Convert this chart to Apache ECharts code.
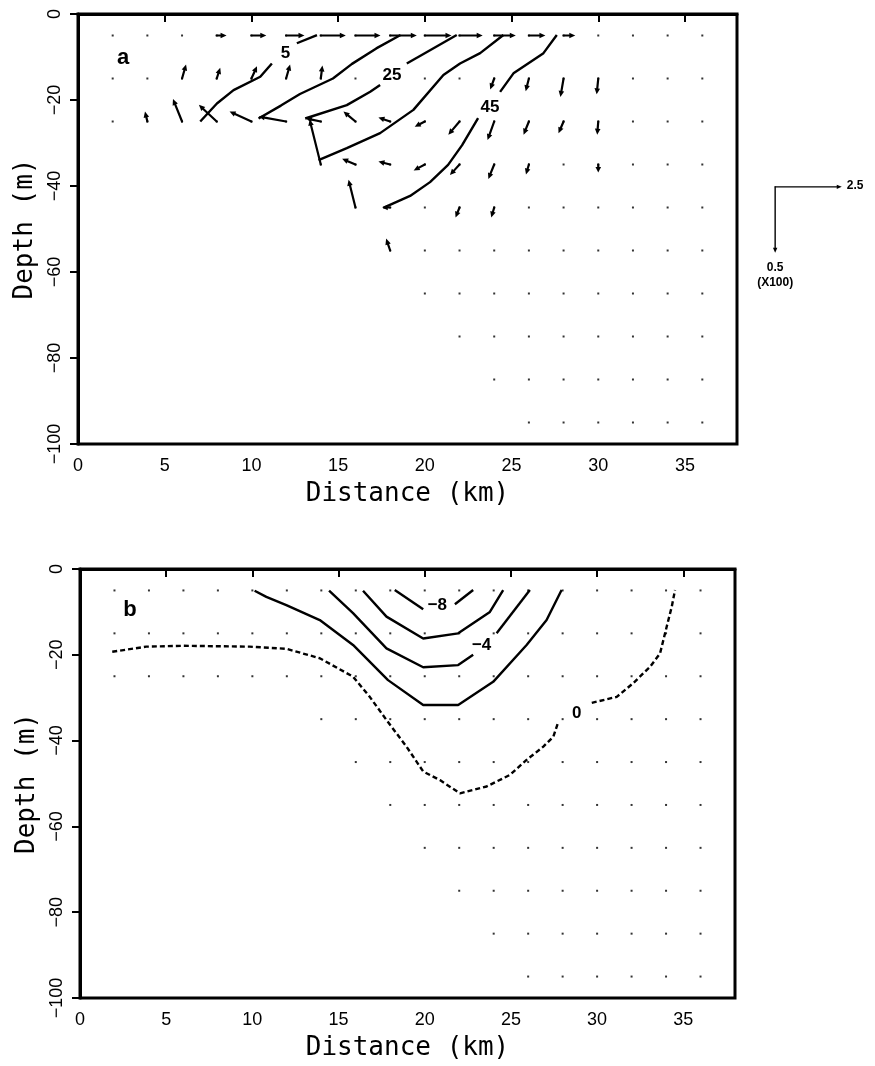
<!DOCTYPE html>
<html>
<head>
<meta charset="utf-8">
<script src="https://cdn.jsdelivr.net/npm/echarts@6/dist/echarts.min.js"></script>
<style>
  html, body { margin: 0; padding: 0; background: #fff; }
  #chart { width: 875px; height: 1066px; }
</style>
</head>
<body>
<div id="chart"></div>
<script>
// ---- sampling grid ----
const stationsKm = [2, 4, 6, 8, 10, 12, 14, 16, 18, 20, 22, 24, 26, 28, 30, 32, 34, 36];
const sampleDepths = [-5, -15, -25, -35, -45, -55, -65, -75, -85, -95];
// first station in the water at each sampling depth (bottom shoals to the left)
const firstStationKm = [2, 2, 2, 14, 16, 18, 20, 22, 24, 26];

// ---- axes ----
const xTicks = [0, 5, 10, 15, 20, 25, 30, 35];
const yTicks = [0, -20, -40, -60, -80, -100];

// ---- panel a: velocity vectors [km, depth m, u, w(x100)] ----
const velRow5 = [[8, -5, 0.37, 0], [10, -5, 0.56, 0], [12, -5, 0.69, 0], [14, -5, 0.94, 0], [16, -5, 0.94, 0],
  [18, -5, 1.0, 0], [20, -5, 1.0, 0], [22, -5, 0.87, 0], [24, -5, 0.81, 0], [26, -5, 0.62, 0], [28, -5, 0.44, 0]];
const velRow15 = [[6, -15, 0.15, 0.106], [8, -15, 0.13, 0.081], [10, -15, 0.21, 0.093], [12, -15, 0.15, 0.106],
  [14, -15, 0.06, 0.098], [24, -15, -0.15, -0.083], [26, -15, -0.12, -0.096], [28, -15, -0.12, -0.14], [30, -15, -0.06, -0.12]];
const velRow25 = [[4, -25, -0.09, 0.076], [6, -25, -0.34, 0.17], [8, -25, -0.67, 0.126], [10, -25, -0.82, 0.076],
  [12, -25, -1.03, 0.038], [14, -25, -0.56, 0.023], [16, -25, -0.45, 0.076], [18, -25, -0.44, 0.03],
  [20, -25, -0.38, -0.04], [22, -25, -0.42, -0.1], [24, -25, -0.25, -0.14], [26, -25, -0.2, -0.1],
  [28, -25, -0.19, -0.089], [30, -25, -0.04, -0.1]];
const velRow35 = [[14, -35, -0.42, 0.34], [16, -35, -0.5, 0.043], [18, -35, -0.44, 0.023], [20, -35, -0.42, -0.045],
  [22, -35, -0.36, -0.08], [24, -35, -0.22, -0.11], [26, -35, -0.11, -0.076], [30, -35, 0, -0.06]];
const velRow45 = [[16, -45, -0.26, 0.21], [18, -45, -0.3, 0], [22, -45, -0.15, -0.076], [24, -45, -0.11, -0.076]];
const velRow55 = [[18, -55, -0.15, 0.09]];

// reference vectors of the key: 2.5 (horizontal) and 0.5 x100 (vertical)
const refU = 2.5, refW = 0.5;
const refLenKm = 3.84, refLenM = 15.35;   // drawn length of the reference vectors in axis units
const keyAnchor = [40.2, -40.2];          // corner of the key, in panel a axis units

// ---- panel a: contours (pieces separated where the label sits) ----
const contA5 = [[[7.05, -25.0], [8.01, -20.8], [8.97, -17.7], [10.51, -14.6], [11.18, -11.5]],
  [[12.62, -6.8], [13.78, -4.9]]];
const contA15 = [[[10.41, -24.3], [11.7, -21.3], [12.8, -18.6], [14.7, -15.0], [15.8, -11.6], [17.2, -8.0], [18.6, -4.9]]];
const contA25 = [[[13.1, -24.3], [15.5, -21.2], [16.85, -18.1], [17.42, -16.5]],
  [[18.96, -11.5], [21.84, -4.9]]];
const contA35 = [[[13.87, -34.0], [15.5, -31.2], [17.42, -27.7], [19.34, -22.3], [21.07, -14.2], [22.03, -11.5],
  [23.19, -9.1], [24.53, -4.9]]];
const contA45 = [[[17.6, -45.1], [19.15, -42.3], [20.3, -39.1], [21.34, -35.1], [22.15, -30.5], [23.07, -24.2]],
  [[24.34, -18.1], [25.11, -13.8], [26.84, -9.1], [27.61, -4.9]]];
const labelsA = [['5', 11.96, -9.1], ['25', 18.1, -14.2], ['45', 23.76, -21.6]];

// ---- panel b: contours ----
const contB0 = [[[1.87, -19.3], [3.84, -18.1], [5.97, -17.9], [9.84, -18.1], [11.97, -18.6], [13.91, -20.8],
  [15.84, -25.1], [16.81, -29.8], [17.78, -35.2], [18.94, -41.4], [19.91, -47.2], [20.88, -49.2],
  [22.04, -52.3], [23.59, -50.7], [24.94, -48.0], [25.91, -44.5], [26.88, -41.4], [27.46, -39.1], [27.75, -35.6]],
  [[29.69, -31.2], [31.14, -29.8], [32.1, -26.6], [33.07, -22.8], [33.65, -19.7], [34.04, -13.4], [34.33, -8.8], [34.52, -4.9]]];
const contB2 = [[[10.13, -5.06], [10.81, -6.5], [11.97, -8.4], [13.91, -11.9], [15.84, -17.7], [17.87, -25.9],
  [19.91, -31.7], [21.94, -31.7], [23.97, -26.3], [25.91, -17.7], [27.07, -11.9], [27.94, -4.9]]];
const contB4 = [[[14.45, -5.06], [15.84, -10.3], [17.78, -18.5], [19.91, -22.9], [21.94, -22.4], [22.81, -20.0]],
  [[24.17, -15.0], [26.1, -4.9]]];
const contB6 = [[[16.42, -5.06], [17.78, -11.1], [19.91, -16.2], [21.94, -15.0], [23.78, -10.0], [24.55, -4.9]]];
const contB8 = [[[18.26, -4.9], [19.91, -9.4]], [[21.75, -8.2], [22.81, -4.9]]];
const labelsB = [['\u22128', 20.73, -8.4], ['\u22124', 23.3, -17.9], ['0', 28.82, -33.6]];

// ---- build ----
const gridPoints = [];
sampleDepths.forEach((d, i) => {
  stationsKm.forEach(k => { if (k >= firstStationKm[i]) gridPoints.push([k, d]); });
});
const vectors = [].concat(velRow5, velRow15, velRow25, velRow35, velRow45, velRow55);
const kmPerU = refLenKm / refU;
const mPerW = refLenM / refW;

function arrowShapes(p0, p1, lw, headLen, headW) {
  const dx = p1[0] - p0[0], dy = p1[1] - p0[1];
  const L = Math.hypot(dx, dy) || 1;
  const ux = dx / L, uy = dy / L;
  const hl = Math.min(headLen, L * 0.7);
  const b = [p1[0] - ux * hl, p1[1] - uy * hl];
  return [
    { type: 'line', shape: { x1: p0[0], y1: p0[1], x2: b[0], y2: b[1] },
      style: { stroke: '#000', lineWidth: lw, lineCap: 'round' } },
    { type: 'polygon', shape: { points: [p1, [b[0] - uy * headW, b[1] + ux * headW], [b[0] + uy * headW, b[1] - ux * headW]] },
      style: { fill: '#000' } }
  ];
}

const FONT = '"Liberation Sans", Arial, sans-serif';
const TITLE_FONT = '"DejaVu Sans Mono", monospace';
const minus = v => String(v).replace('-', '\u2212');

function axesFor(g) {
  return {
    x: {
      type: 'value', gridIndex: g, min: 0, max: 38,
      axisLine: { show: true, lineStyle: { color: '#000', width: 3 } },
      axisTick: { show: true, length: 8, customValues: xTicks, lineStyle: { color: '#000', width: 2 } },
      axisLabel: { customValues: xTicks, color: '#000', fontSize: 18, fontFamily: FONT, margin: 13 },
      splitLine: { show: false },
      name: 'Distance (km)', nameLocation: 'middle', nameGap: 37,
      nameTextStyle: { color: '#000', fontSize: 26, fontFamily: TITLE_FONT }
    },
    y: {
      type: 'value', gridIndex: g, min: -100, max: 0, interval: 20,
      axisLine: { show: true, lineStyle: { color: '#000', width: 3 } },
      axisTick: { show: true, length: 8, lineStyle: { color: '#000', width: 2 } },
      axisLabel: { rotate: 90, color: '#000', fontSize: 18, fontFamily: FONT, margin: 14, formatter: minus },
      splitLine: { show: false },
      name: 'Depth (m)', nameLocation: 'middle', nameGap: 38, nameRotate: 90,
      nameTextStyle: { color: '#000', fontSize: 26, fontFamily: TITLE_FONT }
    }
  };
}
const axA = axesFor(0), axB = axesFor(1);

const series = [];

function addContour(pieces, g, dashed) {
  pieces.forEach(pc => {
    series.push({
      type: 'line', xAxisIndex: g, yAxisIndex: g, data: pc, symbol: 'none', silent: true,
      lineStyle: { color: '#000', width: 2.4, type: dashed ? [5, 3] : 'solid' }, z: 3
    });
  });
}

function addLabels(labels, g) {
  series.push({
    type: 'custom', xAxisIndex: g, yAxisIndex: g, silent: true, clip: false, z: 4,
    data: labels.map(l => [l[1], l[2]]),
    renderItem: (params, api) => {
      const p = api.coord([api.value(0), api.value(1)]);
      return {
        type: 'text', x: p[0], y: p[1],
        style: { text: labels[params.dataIndex][0], font: 'bold 17px ' + FONT, fill: '#000',
          align: 'center', verticalAlign: 'middle', textAlign: 'center', textVerticalAlign: 'middle' }
      };
    }
  });
}

// sampling points, both panels
[0, 1].forEach(g => {
  series.push({
    type: 'scatter', xAxisIndex: g, yAxisIndex: g, data: gridPoints, symbol: 'rect', symbolSize: 2,
    itemStyle: { color: '#000' }, silent: true, z: 2
  });
});

// panel a: vectors
series.push({
  type: 'custom', xAxisIndex: 0, yAxisIndex: 0, silent: true, z: 5, clip: false,
  data: vectors,
  renderItem: (params, api) => {
    const x = api.value(0), y = api.value(1), u = api.value(2), w = api.value(3);
    const p0 = api.coord([x, y]);
    const p1 = api.coord([x + u * kmPerU, y + w * mPerW]);
    return { type: 'group', children: arrowShapes(p0, p1, 2.2, 6, 2.8) };
  }
});

// panel a: key
series.push({
  type: 'custom', xAxisIndex: 0, yAxisIndex: 0, silent: true, z: 5, clip: false,
  data: [keyAnchor],
  renderItem: (params, api) => {
    const a = [api.value(0), api.value(1)];
    const p0 = api.coord(a);
    const ph = api.coord([a[0] + refU * kmPerU, a[1]]);
    const pv = api.coord([a[0], a[1] - refW * mPerW]);
    const txt = (t, x, y, al) => ({ type: 'text', x: x, y: y,
      style: { text: t, font: 'bold 12px ' + FONT, fill: '#000', align: al, verticalAlign: 'middle',
        textAlign: al, textVerticalAlign: 'middle' } });
    return { type: 'group', children: [].concat(
      arrowShapes(p0, ph, 1.4, 5, 2.2),
      arrowShapes(p0, pv, 1.4, 5, 2.2),
      [txt(String(refU), ph[0] + 5, ph[1] - 1, 'left'),
       txt(String(refW), pv[0], pv[1] + 15, 'center'),
       txt('(X100)', pv[0], pv[1] + 30, 'center')]
    ) };
  }
});

addContour(contA5, 0, false);
addContour(contA15, 0, false);
addContour(contA25, 0, false);
addContour(contA35, 0, false);
addContour(contA45, 0, false);
addLabels(labelsA, 0);

addContour(contB0, 1, true);
addContour(contB2, 1, false);
addContour(contB4, 1, false);
addContour(contB6, 1, false);
addContour(contB8, 1, false);
addLabels(labelsB, 1);

const chart = echarts.init(document.getElementById('chart'));
chart.setOption({
  animation: false,
  backgroundColor: '#fff',
  grid: [
    { left: 78, top: 14, width: 659, height: 430, show: true, borderColor: '#000', borderWidth: 3 },
    { left: 80, top: 569, width: 655, height: 429, show: true, borderColor: '#000', borderWidth: 3 }
  ],
  xAxis: [axA.x, axB.x],
  yAxis: [axA.y, axB.y],
  graphic: [
    { type: 'text', x: 123, y: 58, style: { text: 'a', font: 'bold 22px ' + FONT, fill: '#000',
      align: 'center', verticalAlign: 'middle', textAlign: 'center', textVerticalAlign: 'middle' } },
    { type: 'text', x: 130, y: 610, style: { text: 'b', font: 'bold 22px ' + FONT, fill: '#000',
      align: 'center', verticalAlign: 'middle', textAlign: 'center', textVerticalAlign: 'middle' } }
  ],
  series: series
});
</script>
</body>
</html>
